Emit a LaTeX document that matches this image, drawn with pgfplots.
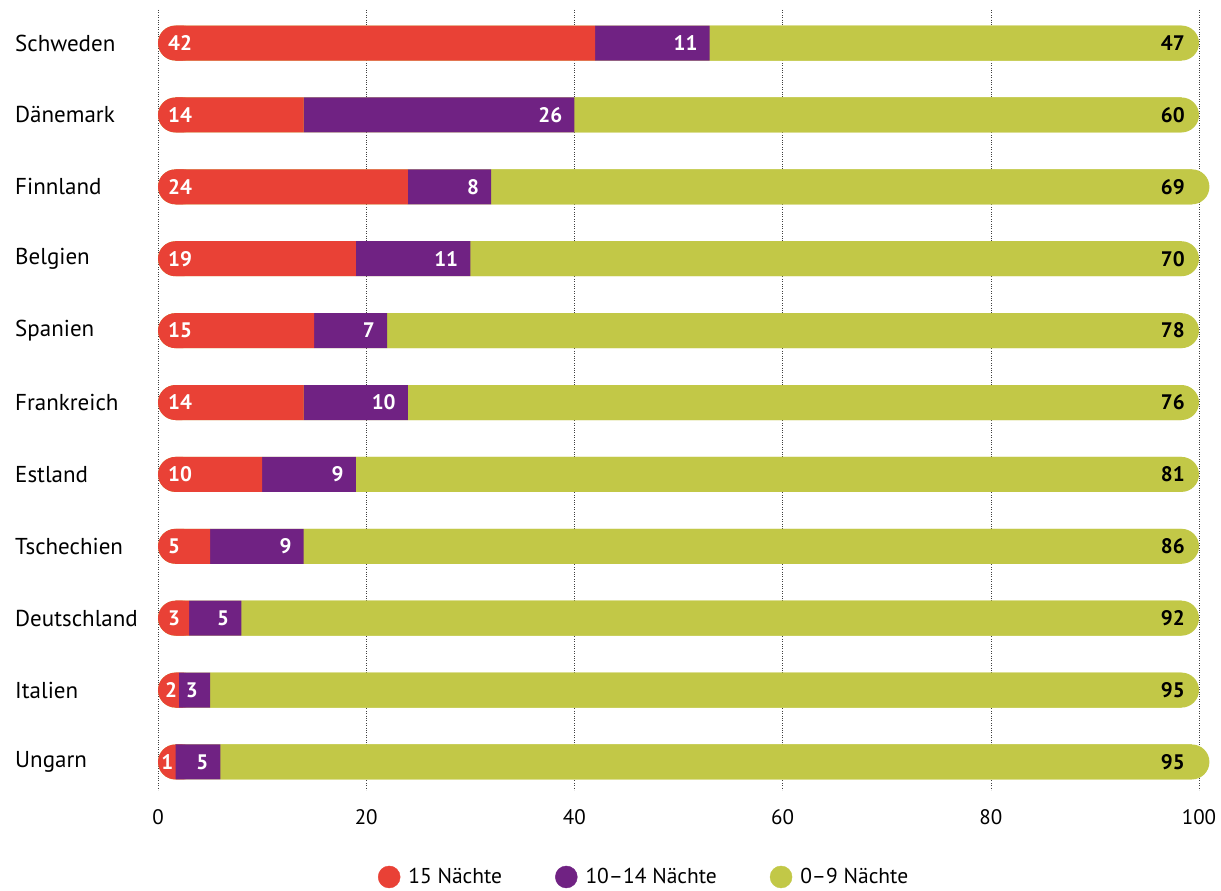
\documentclass[border=0pt]{standalone}
\usepackage{fontspec}
\setmainfont{PT Sans}
\usepackage{pgfplots}
\pgfplotsset{compat=1.18}
\usepackage{pgfplotstable}
\definecolor{cred}{HTML}{E94136}
\definecolor{cpurple}{HTML}{702283}
\definecolor{cgreen}{HTML}{C2C847}

% r, p, g: shares; total: bar length; lx: left position of the red label
\pgfplotstableread{
idx r p g total lx
0 42 11 47 100 0.96
1 14 26 60 100 0.96
2 24 8 69 101 0.96
3 19 11 70 100 0.96
4 15 7 78 100 0.96
5 14 10 76 100 0.96
6 10 9 81 100 0.96
7 5 9 86 100 0.96
8 3 5 92 100 0.96
9 2 3 95 100 0.67
10 1 5 95 101 0.30
}\data

\pgfplotsset{base/.style={
  at={(158pt,101pt)}, anchor=south west, scale only axis,
  width=1041pt, height=780pt,
  xmin=0, xmax=100, ymin=-0.46, ymax=10.39, y dir=reverse,
  clip=false, bar width=35pt, /pgf/bar shift=0pt,
}}
\newcommand{\lfont}{\fontsize{21}{25}\selectfont}
\newcommand{\cfont}{\fontsize{23}{27}\selectfont}
\newcommand{\gfont}{\fontsize{21.5}{25}\selectfont}

\begin{document}
\begin{tikzpicture}
\useasboundingbox (0,0) rectangle (1221pt,891pt);
% axis 1: grid, ticks, caps, legend
\begin{axis}[base,
  axis line style={draw=none},
  major tick length=0pt,
  xtick={0,20,...,100},
  xmajorgrids,
  major grid style={black!75, line width=0.6pt, dash pattern=on 0.8pt off 1.6pt},
  ytick={0,...,10},
  yticklabels={Schweden,Dänemark,Finnland,Belgien,Spanien,Frankreich,Estland,Tschechien,Deutschland,Italien,Ungarn},
  yticklabel style={anchor=west, inner xsep=0pt, xshift=-143pt, font=\cfont},
  xticklabel style={font=\lfont, yshift=-16pt},
  /pgf/number format/assume math mode=true,
  legend style={at={(0.2113,-0.1115)}, anchor=west, draw=none, fill=none,
    inner sep=0pt, outer sep=0pt,
    legend columns=3, font=\gfont,
    /tikz/every odd column/.append style={column sep=6pt},
    /tikz/every even column/.append style={column sep=51pt}},
  legend cell align=left,
  legend image code/.code={\fill (11pt,0pt) circle (11pt);},
]
\addplot[xbar, fill=cgreen, draw=none, rounded corners=17.5pt, forget plot]
  table[x=total, y=idx]{\data};
\addplot[xbar, fill=cred, draw=none, rounded corners=17.5pt, forget plot]
  table[x expr=4, y=idx]{\data};
\addlegendimage{color=cred}
\addlegendentry{15 Nächte}
\addlegendimage{color=cpurple}
\addlegendentry{10–14 Nächte}
\addlegendimage{color=cgreen}
\addlegendentry{0–9 Nächte}
\end{axis}
% axis 2: stacked square segments
\begin{axis}[base, hide axis, xbar stacked]
\addplot[draw=none, fill=none] table[x expr=1.681, y=idx]{\data};
\addplot[draw=none, fill=cred] table[x expr={max(\thisrow{r}-1.681,0)}, y=idx]{\data};
\addplot[draw=none, fill=cpurple] table[x expr={\thisrow{p}-max(1.681-\thisrow{r},0)}, y=idx]{\data};
\addplot[draw=none, fill=cgreen] table[x expr=\thisrow{g}-1.681, y=idx]{\data};
\end{axis}
% axis 3: value labels
\begin{axis}[base, hide axis]
\addplot[draw=none, mark=none, nodes near coords, point meta=explicit symbolic,
  every node near coord/.style={anchor=west, text=white, font=\lfont\bfseries, inner sep=0pt}]
  table[x=lx, y=idx, meta=r]{\data};
\addplot[draw=none, mark=none, nodes near coords, point meta=explicit symbolic,
  every node near coord/.style={anchor=east, xshift=-12pt, text=white, font=\lfont\bfseries, inner sep=0pt}]
  table[x expr=\thisrow{r}+\thisrow{p}, y=idx, meta=p]{\data};
\addplot[draw=none, mark=none, nodes near coords, point meta=explicit symbolic,
  every node near coord/.style={anchor=east, xshift=-14pt, text=black, font=\lfont\bfseries, inner sep=0pt}]
  table[x expr=100, y=idx, meta=g]{\data};
\end{axis}
\end{tikzpicture}
\end{document}
